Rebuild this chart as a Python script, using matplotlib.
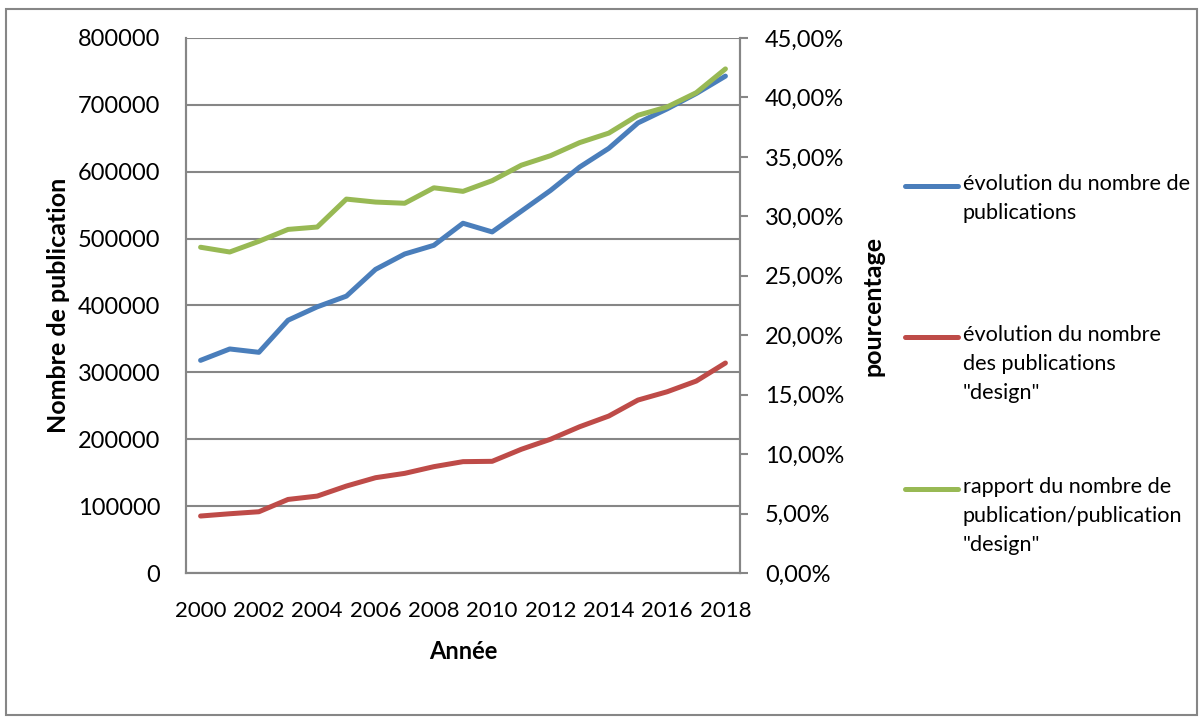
import matplotlib
matplotlib.use("Agg")
import matplotlib.pyplot as plt
from matplotlib.lines import Line2D
from matplotlib.patches import Rectangle
from matplotlib.ticker import FuncFormatter, MultipleLocator

plt.rcParams['font.family'] = ['Lato', 'DejaVu Sans']

years = list(range(2000, 2019))
publications = [318000, 335000, 330000, 378000, 398000, 414000, 454000, 477000,
                490000, 523000, 510000, 541000, 572000, 607000, 635000, 673000,
                694000, 717000, 743000]
publications_design = [85200, 88600, 91600, 110000, 115000, 130000, 142500, 149000,
                       159000, 166500, 167000, 185000, 200000, 218700, 234700, 258600,
                       271000, 287000, 314000]
ratio_pct = [27.4, 27.0, 27.9, 28.9, 29.1, 31.45, 31.2, 31.1, 32.4, 32.1, 33.0,
             34.3, 35.1, 36.2, 37.0, 38.5, 39.2, 40.4, 42.4]

labels = ["évolution du nombre de\npublications",
          "évolution du nombre\ndes publications\n\"design\"",
          "rapport du nombre de\npublication/publication\n\"design\""]
colors = ["#4A7EBB", "#BE4B48", "#98B954"]

W, H = 1203, 720
fig = plt.figure(figsize=(W / 100, H / 100), dpi=100)
ax = fig.add_axes([186 / W, 1 - 573 / H, (740 - 186) / W, (573 - 38) / H])
ax2 = ax.twinx()

grid_c = "#868686"
x = list(range(len(years)))
lw = 3.6
ax.plot(x, publications, color=colors[0], lw=lw, solid_capstyle='round', zorder=3)
ax.plot(x, publications_design, color=colors[1], lw=lw, solid_capstyle='round', zorder=3)
ax2.plot(x, ratio_pct, color=colors[2], lw=lw, solid_capstyle='round', zorder=3)

ax.set_xlim(-0.5, len(years) - 0.5)
ax.set_ylim(0, 800000)
ax2.set_ylim(0, 45)
ax.yaxis.set_major_locator(MultipleLocator(100000))
ax2.yaxis.set_major_locator(MultipleLocator(5))
ax.yaxis.set_major_formatter(FuncFormatter(lambda v, p: f"{int(v)}"))
ax2.yaxis.set_major_formatter(FuncFormatter(lambda v, p: f"{v:.2f}".replace('.', ',') + "%"))
ax.set_xticks(x[::2])
ax.set_xticklabels([str(y) for y in years[::2]])

ax.grid(axis='y', color=grid_c, lw=1.5)
ax.set_axisbelow(True)
for a in (ax, ax2):
    for s in a.spines.values():
        s.set_color(grid_c)
        s.set_linewidth(1.5)
    a.spines['top'].set_visible(False)
ax.tick_params(axis='x', length=0, labelsize=16, pad=20)
ax.tick_params(axis='y', length=0, labelsize=17, pad=18.5)
ax2.tick_params(axis='y', length=6, width=1.5, color=grid_c, labelsize=17, pad=12)

ax.set_xlabel("Année", fontsize=17, fontweight='bold', labelpad=14)
ax.set_ylabel("Nombre de publication", fontsize=18, fontweight='bold')
ax2.set_ylabel("pourcentage", fontsize=18, fontweight='bold')
ax.yaxis.set_label_coords((58 - 186) / 554, 0.5)
ax2.yaxis.set_label_coords((873 - 186) / 554, 0.5)
ax.yaxis.label.set_va('center')
ax2.yaxis.label.set_va('center')

# legend drawn by hand: line sample + wrapped label
legend_y = [186, 337, 489]
for c, lab, yy in zip(colors, labels, legend_y):
    fig.add_artist(Line2D([905 / W, 958 / W], [1 - yy / H] * 2, color=c, lw=lw,
                          solid_capstyle='round', transform=fig.transFigure))
    fig.text(963 / W, 1 - (yy - 12) / H, lab, fontsize=15.6, va='top', ha='left',
             linespacing=1.55)

# chart frame
fig.add_artist(Rectangle((6 / W, 1 - 715 / H), (1197 - 6) / W, (715 - 9) / H,
                         transform=fig.transFigure, fill=False, edgecolor=grid_c, lw=1.5))

fig.savefig("out.png", dpi=100)
